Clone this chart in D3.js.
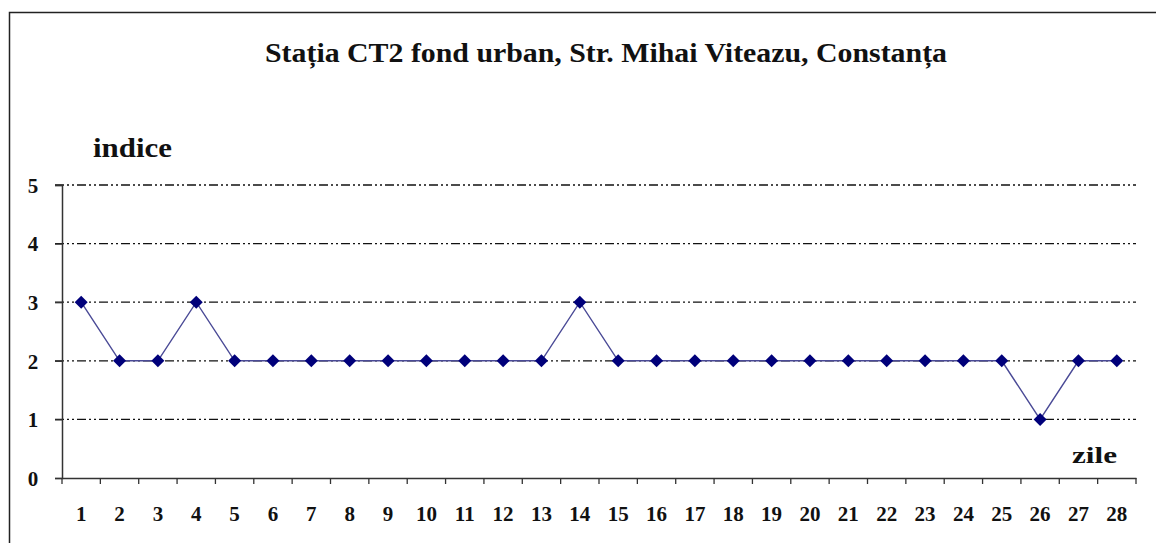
<!DOCTYPE html>
<html><head><meta charset="utf-8">
<script src="https://cdn.jsdelivr.net/npm/d3@7"></script>
<style>body{margin:0;background:#fff}svg{display:block}</style>
</head><body>
<svg id="c" width="1156" height="543"></svg>
<script>
const days = d3.range(1, 29).map(String);
const values = [3,2,2,3,2,2,2,2,2,2,2,2,2,3,2,2,2,2,2,2,2,2,2,2,2,1,2,2];
const yTicks = [0,1,2,3,4,5];
const title = "Stația CT2 fond urban, Str. Mihai Viteazu, Constanța";
const yLabel = "indice", xLabel = "zile";

const svg = d3.select("#c");
const font = "'Liberation Serif','Times New Roman',serif";
svg.append("rect").attr("x",9.5).attr("y",12.5).attr("width",1170).attr("height",540)
  .attr("fill","#fff").attr("stroke","#222").attr("stroke-width",1.5);

const L = 62, R = 1136, T = 185, B = 478;
const x = d3.scaleBand().domain(days).range([L, R]);
const y = d3.scaleLinear().domain([0,5]).range([B, T]);

svg.append("text").attr("x",606).attr("y",62).attr("text-anchor","middle")
  .attr("font-family",font).attr("font-weight","bold").attr("font-size",27)
  .attr("textLength",682).attr("lengthAdjust","spacingAndGlyphs").attr("fill","#111").text(title);

// gridlines
svg.append("g").selectAll("line").data(yTicks.filter(d=>d>0)).join("line")
  .attr("x1",55).attr("x2",R).attr("y1",d=>y(d)).attr("y2",d=>y(d))
  .attr("stroke","#111").attr("stroke-width",1.3).attr("stroke-dasharray","9,3,2,3,2,3");

// y axis
const ya = svg.append("g").attr("transform",`translate(${L},0)`)
  .call(d3.axisLeft(y).tickValues(yTicks).tickFormat(d3.format("d")).tickSize(7));
ya.select(".domain").attr("stroke","#333").attr("stroke-width",1.5);
ya.selectAll(".tick line").attr("stroke","#333").attr("stroke-width",1.3);
ya.selectAll("text").attr("x",33-L).attr("dy","0.35em").attr("text-anchor","middle")
  .attr("font-family",font).attr("font-weight","bold").attr("font-size",21).attr("fill","#111");

// x axis
const xa = svg.append("g").attr("transform",`translate(0,${B})`)
  .call(d3.axisBottom(x).tickSize(0));
xa.select(".domain").attr("stroke","#333").attr("stroke-width",1.5);
xa.selectAll("text").attr("y",43).attr("dy",0)
  .attr("font-family",font).attr("font-weight","bold").attr("font-size",21).attr("fill","#111");
const bounds = days.map(d=>x(d)).concat([R]);
svg.append("g").selectAll("line").data(bounds).join("line")
  .attr("x1",d=>d).attr("x2",d=>d).attr("y1",B).attr("y2",B+6).attr("stroke","#333").attr("stroke-width",1.3);

svg.append("text").attr("x",93).attr("y",157).attr("font-family",font).attr("font-weight","bold")
  .attr("font-size",27).attr("textLength",79).attr("lengthAdjust","spacingAndGlyphs").attr("fill","#111").text(yLabel);
svg.append("text").attr("x",1072).attr("y",463).attr("font-family",font).attr("font-weight","bold")
  .attr("font-size",24).attr("textLength",45).attr("lengthAdjust","spacingAndGlyphs").attr("fill","#111").text(xLabel);

const cx = d => x(d) + x.bandwidth()/2;
svg.append("path").datum(values)
  .attr("d", d3.line().x((v,i)=>cx(days[i])).y(v=>y(v)))
  .attr("fill","none").attr("stroke","#4a4a96").attr("stroke-width",1.4);
svg.append("g").selectAll("path").data(values).join("path")
  .attr("transform",(v,i)=>`translate(${cx(days[i])},${y(v)})`)
  .attr("d","M0,-6.5L6.5,0L0,6.5L-6.5,0Z").attr("fill","#00007a");
</script>
</body></html>
